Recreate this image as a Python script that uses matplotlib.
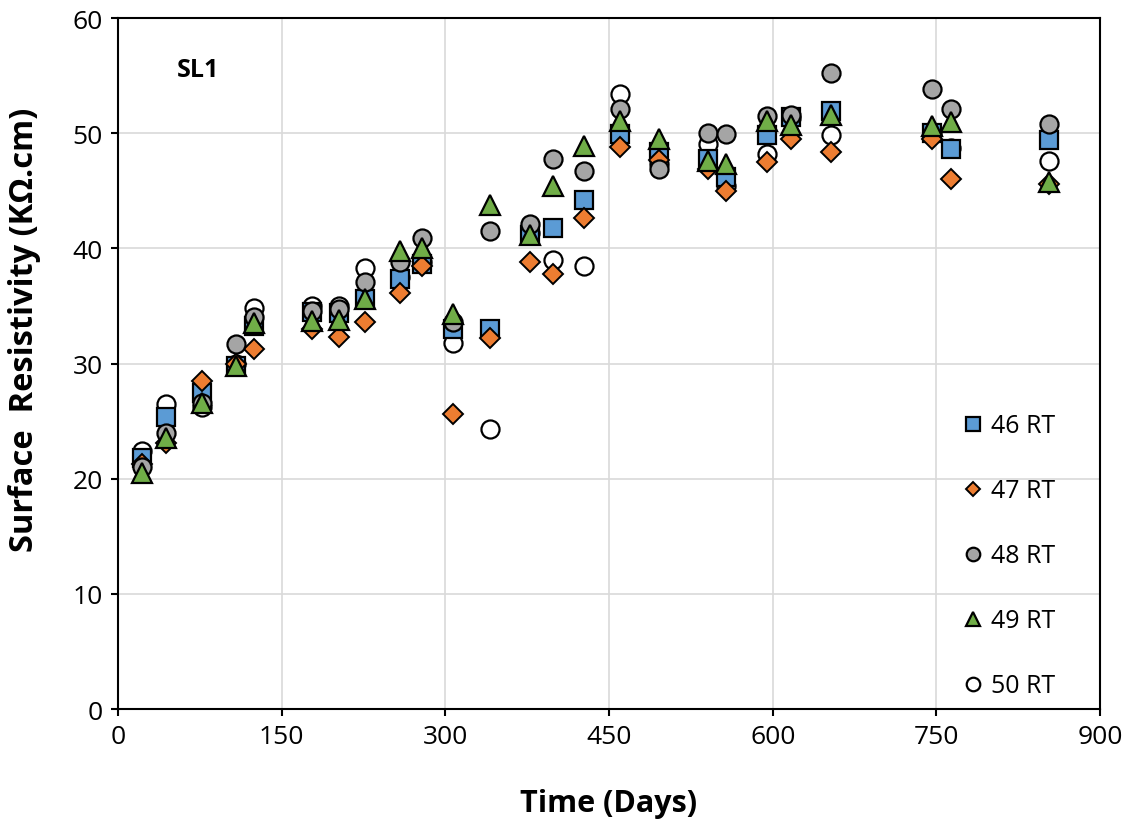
import matplotlib.pyplot as plt

plt.rcParams['font.family'] = ['Open Sans', 'DejaVu Sans']

days = [22, 44, 77, 108, 125, 178, 203, 226, 258, 279, 307, 341, 378, 399, 427,
        460, 496, 541, 557, 595, 617, 653, 746, 763, 853]

rt46 = [21.8, 25.4, 27.4, 29.8, 33.3, 34.5, 34.4, 35.6, 37.3, 38.6, 33.0, 33.0, 41.2, 41.8, 44.2,
        49.9, 48.4, 47.8, 46.2, 49.8, 51.4, 51.9, 50.0, 48.6, 49.4]
rt47 = [21.3, 23.1, 28.5, 30.0, 31.3, 33.0, 32.3, 33.6, 36.1, 38.5, 25.6, 32.2, 38.8, 37.8, 42.6,
        48.8, 47.7, 46.9, 45.0, 47.5, 49.5, 48.4, 49.5, 46.0, 45.6]
rt48 = [21.0, 24.0, 26.6, 31.7, 34.0, 34.6, 34.7, 37.1, 38.8, 40.9, 33.6, 41.5, 42.1, 47.8, 46.7,
        52.1, 46.9, 50.0, 49.9, 51.5, 51.6, 55.2, 53.8, 52.1, 50.8]
rt49 = [20.5, 23.5, 26.6, 29.8, 33.5, 33.7, 33.8, 35.6, 39.8, 40.0, 34.3, 43.8, 41.2, 45.4, 48.9,
        51.1, 49.5, 47.6, 47.3, 51.1, 50.7, 51.6, 50.6, 51.0, 45.8]
rt50 = [22.4, 26.5, 26.2, 30.0, 34.8, 35.0, 35.0, 38.3, 37.5, 38.8, 31.8, 24.3, 41.3, 39.0, 38.5,
        53.4, 47.3, 49.1, 45.4, 48.2, 51.3, 49.8, 50.0, 48.7, 47.6]

fig = plt.figure(figsize=(11.3, 8.2), dpi=100)
ax = fig.add_axes([0.1044, 0.1341, 0.8691, 0.8427])

ec = 'black'
ax.plot(days, rt50, 'o', ms=13, mfc='white', mec=ec, mew=1.6, label='50 RT', zorder=2)
ax.plot(days, rt46, 's', ms=13, mfc='#5B9BD5', mec=ec, mew=1.6, label='46 RT', zorder=3)
ax.plot(days, rt47, 'D', ms=10, mfc='#ED7D31', mec=ec, mew=1.4, label='47 RT', zorder=4)
ax.plot(days, rt48, 'o', ms=13, mfc='#A5A5A5', mec=ec, mew=1.6, label='48 RT', zorder=5)
ax.plot(days, rt49, '^', ms=14, mfc='#70AD47', mec=ec, mew=1.6, label='49 RT', zorder=6)

ax.set_xlim(0, 900)
ax.set_ylim(0, 60)
ax.set_xticks(range(0, 901, 150))
ax.set_yticks(range(0, 61, 10))
ax.grid(True, color='#d9d9d9', linewidth=1.2)
ax.set_axisbelow(True)
ax.tick_params(labelsize=19, direction='out', length=5, width=1.5, pad=6)
for s in ax.spines.values():
    s.set_linewidth(1.5)

ax.set_xlabel('Time (Days)', fontsize=22, fontweight='bold', labelpad=28)
ax.set_ylabel('Surface  Resistivity (KΩ.cm)', fontsize=23.5, fontweight='bold')
ax.yaxis.set_label_coords(-0.078, 0.55)
ax.text(0.0815, 0.925, 'SL1', transform=ax.transAxes, fontsize=18, fontweight='bold',
        ha='center', va='center')

handles, labels = ax.get_legend_handles_labels()
order = [1, 2, 3, 4, 0]
leg = ax.legend([handles[i] for i in order], [labels[i] for i in order],
                loc='lower right', bbox_to_anchor=(0.977, -0.017), frameon=False,
                fontsize=18, labelspacing=1.6, markerscale=0.75, handlelength=0.8,
                handletextpad=0.3)

fig.savefig('out.png', dpi=100)
